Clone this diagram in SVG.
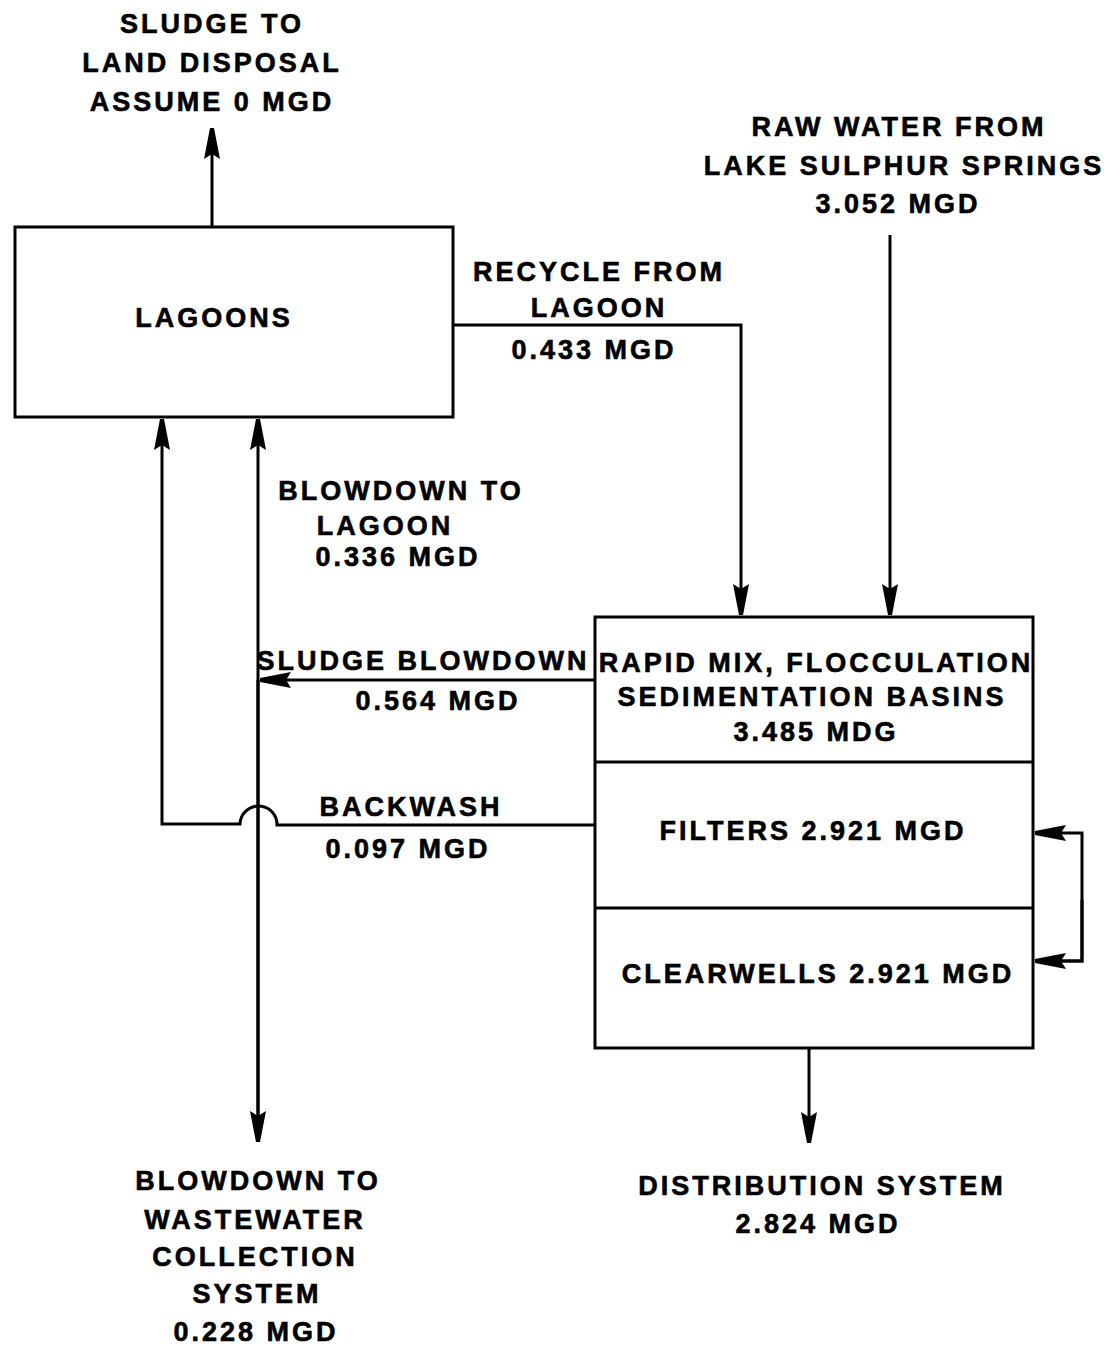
<svg xmlns="http://www.w3.org/2000/svg" width="1108" height="1353" viewBox="0 0 1108 1353">
<style>
.t{font-family:"Liberation Sans",Arial,sans-serif;font-weight:bold;font-size:27px;letter-spacing:3px;fill:#000;stroke:#000;stroke-width:0.6;text-anchor:middle}
.b{fill:#fff;stroke:#000;stroke-width:3}
.l{fill:none;stroke:#000;stroke-width:3}
</style>
<defs>
<marker id="ah" markerUnits="userSpaceOnUse" markerWidth="34" markerHeight="20" refX="31" refY="10" orient="auto">
<path d="M0,2 L31,8 L31,12 L0,18 L5,10 Z" fill="#000"/>
</marker>
</defs>
<rect width="1108" height="1353" fill="#fff"/>
<g id="connectors">
<path class="l" d="M212,227 V128" marker-end="url(#ah)"/>
<path class="l" d="M453,325 H741 V615" marker-end="url(#ah)"/>
<path class="l" d="M890,235 V615" marker-end="url(#ah)"/>
<path class="l" d="M595,680 H260" marker-end="url(#ah)"/>
<path class="l" d="M595,825 H277 A18,18 0 0 0 240,824 H162 V419" marker-end="url(#ah)"/>
<path class="l" d="M258,1140 V419" marker-end="url(#ah)"/>
<path class="l" d="M258,680 V1142" marker-end="url(#ah)"/>
<path class="l" d="M1035,961 H1082 V833 H1035" marker-end="url(#ah)"/>
<path class="l" d="M1082,900 V961 H1035" marker-end="url(#ah)"/>
<path class="l" d="M809,1048 V1143" marker-end="url(#ah)"/>
</g>
<g id="lagoons">
<rect class="b" x="15" y="227" width="438" height="190"/>
<text class="t" x="214" y="327">LAGOONS</text>
</g>
<g id="treatment">
<rect class="b" x="595" y="617" width="438" height="431"/>
<line class="l" x1="595" y1="762" x2="1033" y2="762"/>
<line class="l" x1="595" y1="908" x2="1033" y2="908"/>
<text class="t" x="816" y="672">RAPID MIX, FLOCCULATION</text>
<text class="t" x="812" y="706">SEDIMENTATION BASINS</text>
<text class="t" x="816" y="741">3.485 MDG</text>
<text class="t" x="813" y="840">FILTERS 2.921 MGD</text>
<text class="t" x="818" y="983">CLEARWELLS 2.921 MGD</text>
</g>
<g id="sludge-disposal">
<text class="t" x="212" y="33">SLUDGE TO</text>
<text class="t" x="212" y="72">LAND DISPOSAL</text>
<text class="t" x="212" y="111">ASSUME 0 MGD</text>
</g>
<g id="raw-water">
<text class="t" x="899" y="136">RAW WATER FROM</text>
<text class="t" x="904" y="175">LAKE SULPHUR SPRINGS</text>
<text class="t" x="898" y="213">3.052 MGD</text>
</g>
<g id="labels">
<text class="t" x="599" y="281">RECYCLE FROM</text>
<text class="t" x="599" y="317">LAGOON</text>
<text class="t" x="594" y="359">0.433 MGD</text>
<text class="t" x="401" y="500">BLOWDOWN TO</text>
<text class="t" x="385" y="535">LAGOON</text>
<text class="t" x="398" y="566">0.336 MGD</text>
<text class="t" x="423" y="670">SLUDGE BLOWDOWN</text>
<text class="t" x="438" y="710">0.564 MGD</text>
<text class="t" x="411" y="816">BACKWASH</text>
<text class="t" x="408" y="858">0.097 MGD</text>
</g>
<g id="wastewater">
<text class="t" x="258" y="1190">BLOWDOWN TO</text>
<text class="t" x="255" y="1229">WASTEWATER</text>
<text class="t" x="255" y="1266">COLLECTION</text>
<text class="t" x="257" y="1303">SYSTEM</text>
<text class="t" x="256" y="1341">0.228 MGD</text>
</g>
<g id="distribution">
<text class="t" x="822" y="1195">DISTRIBUTION SYSTEM</text>
<text class="t" x="818" y="1233">2.824 MGD</text>
</g>
</svg>
